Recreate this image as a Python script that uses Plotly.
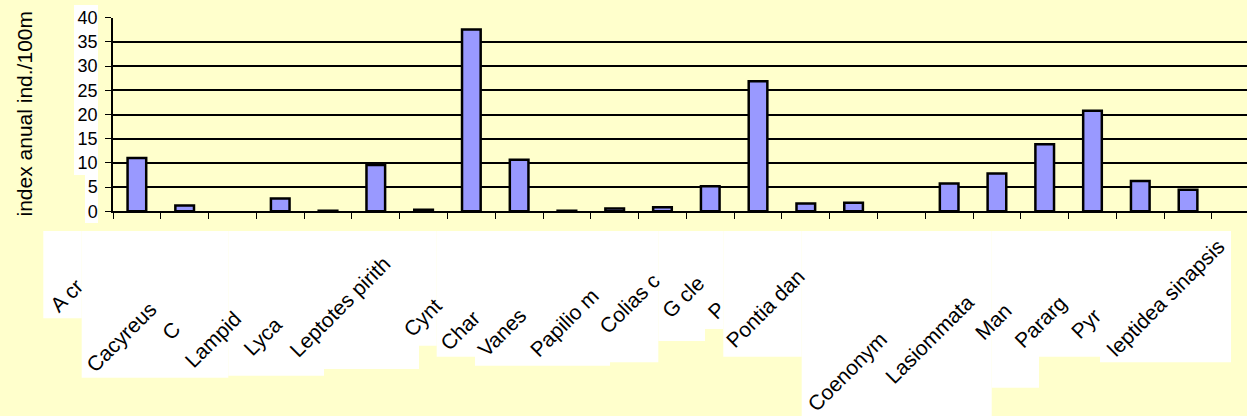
import plotly.graph_objects as go

# Annual abundance index per species (individuals / 100 m)
values = [11.0, 1.2, 0, 2.65, 0.1, 9.55, 0.3, 37.55, 10.65, 0.1, 0.6, 0.85,
          5.15, 26.85, 1.6, 1.75, 0, 5.75, 7.8, 13.85, 20.75, 6.25, 4.45]
positions = list(range(len(values)))

# Species labels as they appear under the axis
species_labels = ["A cr", "Cacyreus", "C", "Lampid", "Lyca", "Leptotes pirith",
                  "Cynt", "Char", "Vanes", "Papilio m", "Colias c", "G cle",
                  "P", "Pontia dan", "Coenonym", "Lasiommata", "Man", "Pararg",
                  "Pyr", "leptidea sinapsis"]

y_title = "index anual ind./100m"
y_ticks = [0, 5, 10, 15, 20, 25, 30, 35, 40]

W, H = 1247, 416
FONT = "Liberation Sans, Arial, sans-serif"
BG = "#FFFFCC"

# plot-area placement in pixels
PX_LEFT, PX_RIGHT, PX_TOP, PX_BOTTOM = 113, 1247, 17.7, 211.3
CAT_PX = 47.78  # width of one category slot


def px(x):
    return x / W


def py(y):
    return 1 - y / H


span = (PX_RIGHT - PX_LEFT) / CAT_PX

# empty categories get no outline so nothing is drawn on the axis
outline_widths = [2.5 if v > 0 else 0 for v in values]

fig = go.Figure(go.Bar(
    x=positions, y=values, width=0.39,
    marker=dict(color="#9999FF", line=dict(color="black", width=outline_widths)),
))

# label positions (centre of each rotated label, pixels)
label_xy = [(66, 295), (121.7, 336.7), (170.8, 330), (212.5, 339), (262.5, 336.7),
            (340, 306.7), (422.5, 317.5), (459.7, 330), (501.7, 332.5),
            (564.2, 322.5), (629.2, 303.3), (683, 296), (715.8, 310),
            (765, 308.3), (847, 371), (929, 339), (993.3, 321.7),
            (1040.8, 321.7), (1085.8, 323.3), (1165.8, 297.5)]

# white label backgrounds (x0, x1, bottom) all starting at y=231
label_boxes = [(43.3, 81.7, 318.3), (81.7, 228.3, 377.7), (228.3, 324, 375.7),
               (324, 419, 369), (419, 436.7, 345.7), (436.7, 475, 356.7),
               (475, 610, 365.7), (610, 658.3, 362.3), (658.3, 705, 341),
               (705, 723.3, 329), (723.3, 801.7, 356.7), (801.7, 991.7, 416),
               (991.7, 1039, 387.7), (1039, 1100, 356.7), (1100, 1231, 362.3)]

shapes = []
for x0, x1, yb in label_boxes:
    shapes.append(dict(type="rect", xref="paper", yref="paper", layer="below",
                       x0=px(x0), x1=px(x1), y0=py(yb), y1=py(231),
                       fillcolor="white", line=dict(width=0)))
# white backing behind the value-axis numbers
for x0, x1, y0, y1 in [(74, 98, 5, 175), (85, 98, 175, 223)]:
    shapes.append(dict(type="rect", xref="paper", yref="paper", layer="below",
                       x0=px(x0), x1=px(x1), y0=py(y1), y1=py(y0),
                       fillcolor="white", line=dict(width=0)))

annotations = []
for text, (cx, cy) in zip(species_labels, label_xy):
    annotations.append(dict(text=text, x=px(cx), y=py(cy), xref="paper", yref="paper",
                            xanchor="center", yanchor="middle", showarrow=False,
                            textangle=-45, font=dict(family=FONT, size=21, color="black")))
annotations.append(dict(text=y_title, x=px(23.5), y=py(114), xref="paper", yref="paper",
                        xanchor="center", yanchor="middle", showarrow=False,
                        textangle=-90, font=dict(family=FONT, size=21, color="black")))

fig.update_layout(
    template="none",
    width=W, height=H,
    margin=dict(l=0, r=0, t=0, b=0, pad=0),
    paper_bgcolor=BG, plot_bgcolor=BG,
    showlegend=False,
    shapes=shapes, annotations=annotations,
    xaxis=dict(domain=[px(PX_LEFT), px(PX_RIGHT)], range=[-0.5, span - 0.5],
               automargin=False, showgrid=False, zeroline=False,
               showline=True, linecolor="black", linewidth=1.5,
               tickmode="array", tickvals=[k - 0.5 for k in range(len(values) + 1)],
               ticks="outside", ticklen=6, tickwidth=1.3, tickcolor="black",
               showticklabels=False, fixedrange=True),
    yaxis=dict(domain=[py(PX_BOTTOM), py(PX_TOP)], range=[0, 40],
               automargin=False, tickmode="array", tickvals=y_ticks,
               showgrid=True, gridcolor="black", gridwidth=1.5,
               zeroline=False, showline=True, linecolor="black", linewidth=1.5,
               ticks="outside", ticklen=6, tickwidth=1.3, tickcolor="black",
               ticklabelstandoff=4,
               tickfont=dict(family=FONT, size=18, color="black"), fixedrange=True),
)

fig.write_html("out.html")
